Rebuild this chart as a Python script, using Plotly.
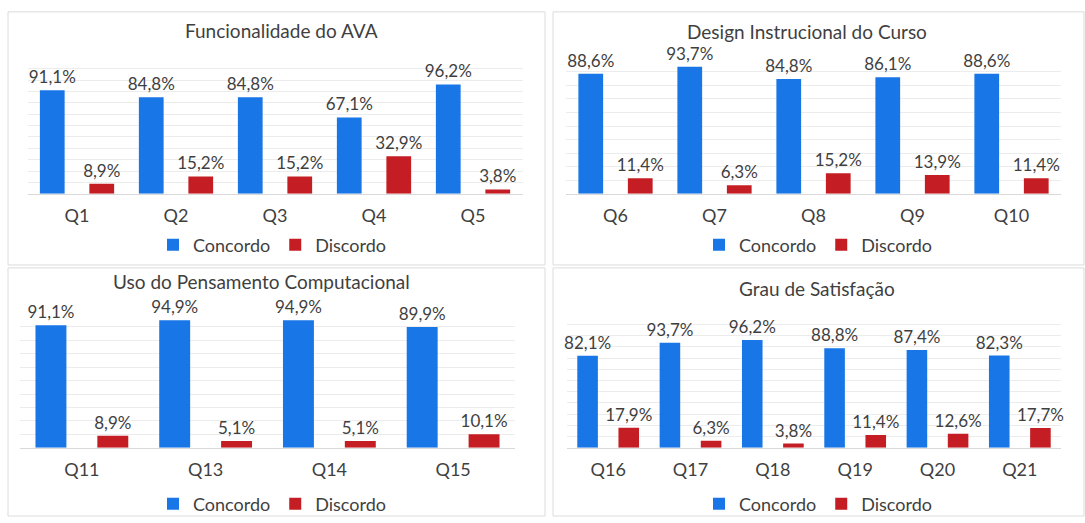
import plotly.graph_objects as go

W, H = 1085, 523

titles = ["Funcionalidade do AVA", "Design Instrucional do Curso",
          "Uso do Pensamento Computacional", "Grau de Satisfação"]

cats1 = ["Q1", "Q2", "Q3", "Q4", "Q5"]
conc1 = [91.1, 84.8, 84.8, 67.1, 96.2]
disc1 = [8.9, 15.2, 15.2, 32.9, 3.8]

cats2 = ["Q6", "Q7", "Q8", "Q9", "Q10"]
conc2 = [88.6, 93.7, 84.8, 86.1, 88.6]
disc2 = [11.4, 6.3, 15.2, 13.9, 11.4]

cats3 = ["Q11", "Q13", "Q14", "Q15"]
conc3 = [91.1, 94.9, 94.9, 89.9]
disc3 = [8.9, 5.1, 5.1, 10.1]

cats4 = ["Q16", "Q17", "Q18", "Q19", "Q20", "Q21"]
conc4 = [82.1, 93.7, 96.2, 88.8, 87.4, 82.3]
disc4 = [17.9, 6.3, 3.8, 11.4, 12.6, 17.7]

series_names = ["Concordo", "Discordo"]
BLUE = "#1976E6"
RED = "#C41E24"
TXT = "#3f3f3f"
FONT = "Lato"
FS = 18
LFS = 17

panels = [
    dict(cats=cats1, conc=conc1, disc=disc1, px=(27.5, 522.5), py=(58, 196), rng=120,
         title_xy=(281, 31), leg_xy=(272, 248)),
    dict(cats=cats2, conc=conc2, disc=disc2, px=(566, 1061), py=(59, 196), rng=100,
         title_xy=(807, 32), leg_xy=(818, 248)),
    dict(cats=cats3, conc=conc3, disc=disc3, px=(20, 515), py=(317, 453), rng=100,
         title_xy=(261, 285), leg_xy=(272, 510)),
    dict(cats=cats4, conc=conc4, disc=disc4, px=(567, 1061), py=(317, 453), rng=120,
         title_xy=(817, 292), leg_xy=(818, 510)),
]

def fmt(v):
    return f"{v:.1f}%".replace(".", ",")

fig = go.Figure()
layout = dict(
    width=W, height=H, margin=dict(l=0, r=0, t=0, b=0),
    paper_bgcolor="white", plot_bgcolor="white",
    barmode="group", bargap=0.0, bargroupgap=0.5,
    font=dict(family=FONT, size=FS, color=TXT),
    annotations=[], shapes=[],
)

for i, p in enumerate(panels):
    n = i + 1
    xa = "x" if n == 1 else f"x{n}"
    ya = "y" if n == 1 else f"y{n}"
    leg = "legend" if n == 1 else f"legend{n}"
    for name, vals, col in [(series_names[0], p["conc"], BLUE), (series_names[1], p["disc"], RED)]:
        fig.add_trace(go.Bar(
            x=p["cats"], y=vals, name=name, marker_color=col, marker_line_width=0,
            text=[fmt(v) for v in vals], textposition="outside", constraintext="none",
            textfont=dict(family=FONT, size=LFS, color=TXT), cliponaxis=False,
            xaxis=xa, yaxis=ya, legend=leg, hoverinfo="skip",
        ))
    xk = "xaxis" if n == 1 else f"xaxis{n}"
    yk = "yaxis" if n == 1 else f"yaxis{n}"
    layout[xk] = dict(domain=[p["px"][0] / W, p["px"][1] / W], anchor=ya,
                      showgrid=False, showline=True, linecolor="#d9d9d9", linewidth=1,
                      ticks="", ticklabelstandoff=6,
                      tickfont=dict(family=FONT, size=FS, color=TXT), fixedrange=True)
    layout[yk] = dict(domain=[1 - p["py"][1] / H, 1 - p["py"][0] / H], anchor=xa,
                      range=[0, p["rng"]], dtick=10, showticklabels=False,
                      showgrid=True, gridcolor="#ececec", gridwidth=1,
                      zeroline=False, fixedrange=True)
    layout[leg] = dict(orientation="h", x=p["leg_xy"][0] / W, y=1 - p["leg_xy"][1] / H,
                       xanchor="center", yanchor="middle", bgcolor="rgba(0,0,0,0)",
                       font=dict(family=FONT, size=FS, color=TXT),
                       itemwidth=30, tracegroupgap=0)
    layout["annotations"].append(dict(
        text=titles[i], x=p["title_xy"][0] / W, y=1 - p["title_xy"][1] / H,
        xref="paper", yref="paper", xanchor="center", yanchor="middle",
        showarrow=False, font=dict(family=FONT, size=19, color=TXT)))

# panel frames
for (x0, y0, x1, y1) in [(8, 12, 545, 268), (553, 12, 1084, 268),
                         (8, 271, 545, 522), (553, 271, 1084, 522)]:
    layout["shapes"].append(dict(type="rect", xref="paper", yref="paper",
                                 x0=x0 / W, x1=x1 / W, y0=1 - y1 / H, y1=1 - y0 / H,
                                 line=dict(color="#dcdcdc", width=1), layer="below"))

fig.update_layout(**layout)
fig.write_html("out.html")
